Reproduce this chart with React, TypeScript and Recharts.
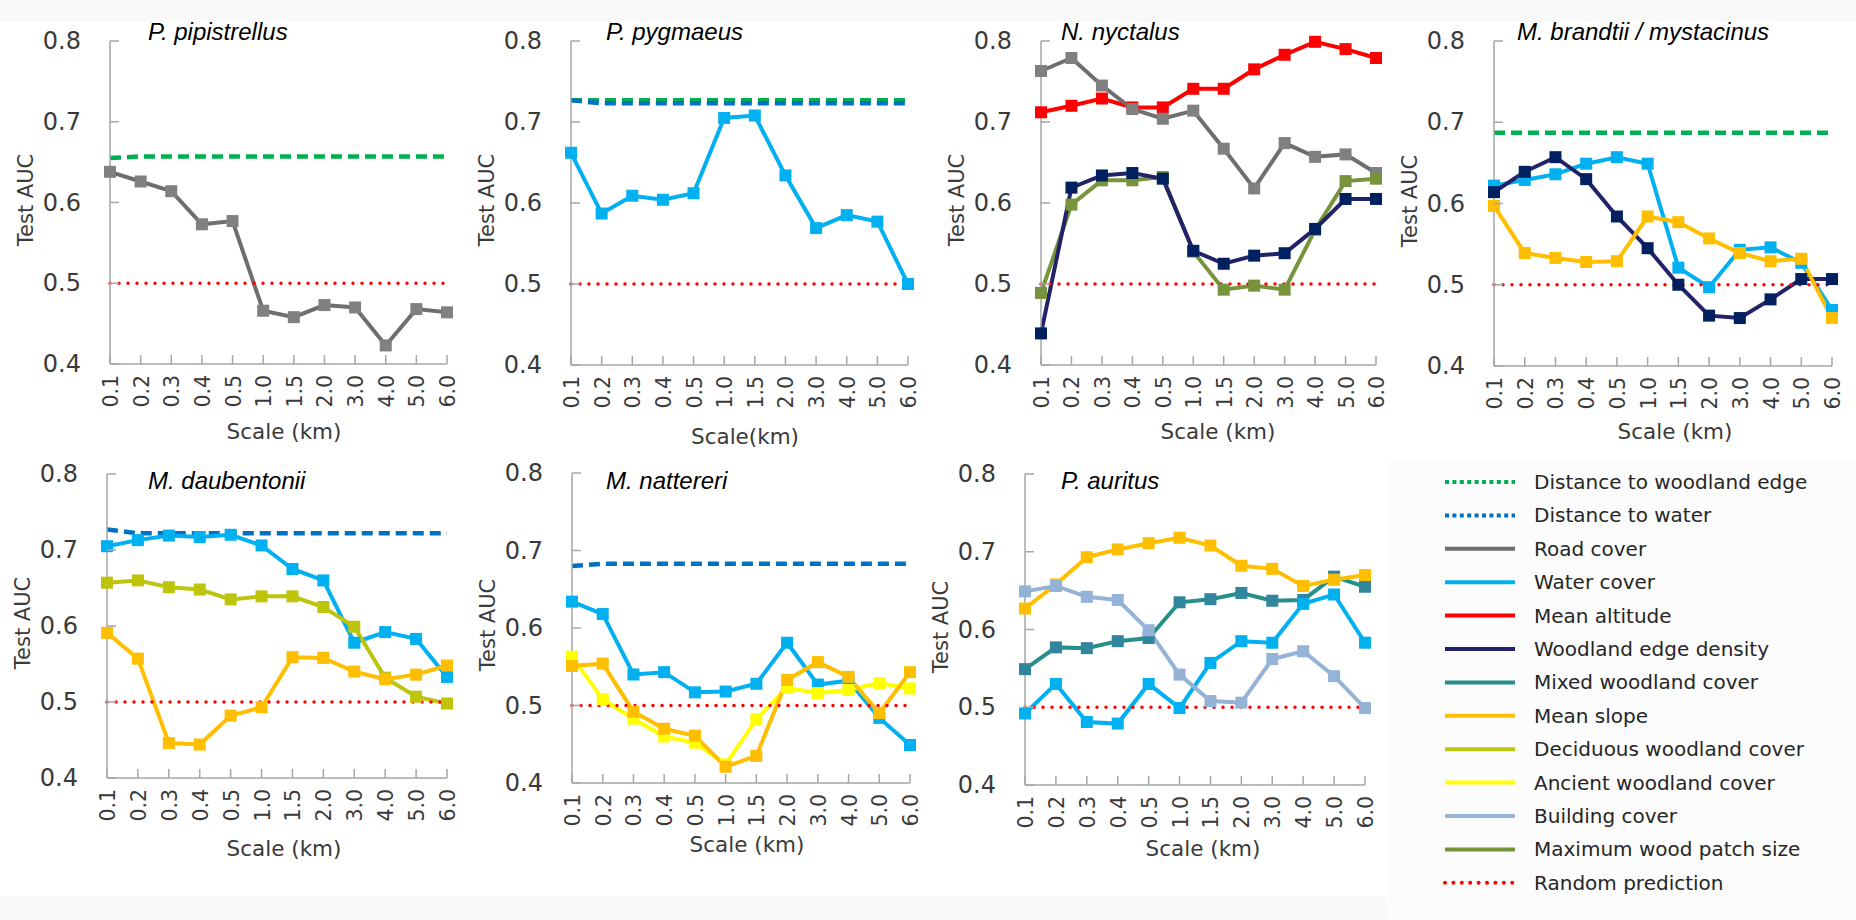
import { LineChart, Line, XAxis, YAxis, ReferenceLine } from "recharts";

const SCALES = ["0.1", "0.2", "0.3", "0.4", "0.5", "1.0", "1.5", "2.0", "3.0", "4.0", "5.0", "6.0"];
const AUC_TICKS = [0.4, 0.5, 0.6, 0.7, 0.8];
const RANDOM_AUC = 0.5;

// P. pipistrellus
const pipWoodEdgeDist = [0.655, 0.657, 0.657, 0.657, 0.657, 0.657, 0.657, 0.657, 0.657, 0.657, 0.657, 0.657];
const pipRoad = [0.638, 0.626, 0.614, 0.573, 0.577, 0.466, 0.458, 0.473, 0.47, 0.423, 0.468, 0.464];

// P. pygmaeus
const pygWoodEdgeDist = [0.727, 0.727, 0.727, 0.727, 0.727, 0.727, 0.727, 0.727, 0.727, 0.727, 0.727, 0.727];
const pygWaterDist = [0.727, 0.723, 0.723, 0.723, 0.723, 0.723, 0.723, 0.723, 0.723, 0.723, 0.723, 0.723];
const pygWater = [0.662, 0.587, 0.609, 0.604, 0.612, 0.705, 0.708, 0.634, 0.569, 0.585, 0.577, 0.5];

// N. nyctalus
const nycAltitude = [0.712, 0.72, 0.729, 0.718, 0.718, 0.741, 0.741, 0.765, 0.783, 0.799, 0.79, 0.779];
const nycRoad = [0.763, 0.779, 0.745, 0.716, 0.704, 0.714, 0.667, 0.618, 0.674, 0.657, 0.66, 0.637];
const nycPatch = [0.489, 0.598, 0.628, 0.628, 0.632, 0.54, 0.493, 0.498, 0.493, 0.567, 0.627, 0.63];
const nycEdgeDensity = [0.439, 0.619, 0.634, 0.637, 0.63, 0.541, 0.525, 0.535, 0.538, 0.568, 0.605, 0.605];

// M. brandtii / mystacinus
const braWoodEdgeDist = [0.687, 0.687, 0.687, 0.687, 0.687, 0.687, 0.687, 0.687, 0.687, 0.687, 0.687, 0.687];
const braWater = [0.622, 0.629, 0.636, 0.649, 0.657, 0.649, 0.521, 0.497, 0.543, 0.546, 0.527, 0.469];
const braEdgeDensity = [0.614, 0.639, 0.657, 0.63, 0.584, 0.545, 0.5, 0.462, 0.459, 0.482, 0.507, 0.507];
const braSlope = [0.597, 0.539, 0.533, 0.528, 0.529, 0.584, 0.577, 0.557, 0.539, 0.529, 0.532, 0.459];

// M. daubentonii
const dauWaterDist = [0.727, 0.722, 0.722, 0.722, 0.722, 0.722, 0.722, 0.722, 0.722, 0.722, 0.722, 0.722];
const dauWater = [0.705, 0.713, 0.719, 0.717, 0.72, 0.706, 0.675, 0.66, 0.578, 0.592, 0.583, 0.533];
const dauDeciduous = [0.657, 0.66, 0.651, 0.648, 0.635, 0.639, 0.639, 0.625, 0.599, 0.532, 0.507, 0.498];
const dauSlope = [0.591, 0.557, 0.446, 0.444, 0.482, 0.493, 0.559, 0.558, 0.54, 0.53, 0.536, 0.548];

// M. nattereri
const natWaterDist = [0.68, 0.683, 0.683, 0.683, 0.683, 0.683, 0.683, 0.683, 0.683, 0.683, 0.683, 0.683];
const natWater = [0.634, 0.618, 0.54, 0.543, 0.517, 0.518, 0.528, 0.581, 0.527, 0.532, 0.484, 0.449];
const natAncient = [0.563, 0.508, 0.483, 0.46, 0.452, 0.424, 0.482, 0.523, 0.516, 0.52, 0.529, 0.522];
const natSlope = [0.551, 0.554, 0.492, 0.47, 0.461, 0.421, 0.435, 0.533, 0.556, 0.537, 0.49, 0.543];

// P. auritus
const aurMixed = [0.549, 0.577, 0.576, 0.585, 0.589, 0.635, 0.639, 0.647, 0.637, 0.638, 0.668, 0.655];
const aurWater = [0.492, 0.53, 0.481, 0.479, 0.53, 0.499, 0.557, 0.585, 0.583, 0.633, 0.645, 0.583];
const aurSlope = [0.627, 0.658, 0.693, 0.703, 0.711, 0.718, 0.708, 0.682, 0.678, 0.656, 0.664, 0.67];
const aurBuilding = [0.649, 0.656, 0.642, 0.638, 0.599, 0.542, 0.508, 0.506, 0.562, 0.572, 0.54, 0.499];

type Covariate = { name: string; stroke: string; marker?: string; kind: "dist" | "cover" | "random" };

const COVARIATES: Record<string, Covariate> = {
  woodEdgeDist: { name: "Distance to woodland edge", stroke: "#00b050", kind: "dist" },
  waterDist: { name: "Distance to water", stroke: "#0070c0", kind: "dist" },
  road: { name: "Road cover", stroke: "#6e6e6e", marker: "#808080", kind: "cover" },
  water: { name: "Water cover", stroke: "#00b0f0", marker: "#00b0f0", kind: "cover" },
  altitude: { name: "Mean altitude", stroke: "#ff0000", marker: "#ff0000", kind: "cover" },
  edgeDensity: { name: "Woodland edge density", stroke: "#22226a", marker: "#002060", kind: "cover" },
  mixed: { name: "Mixed woodland cover", stroke: "#25908a", marker: "#31859c", kind: "cover" },
  slope: { name: "Mean slope", stroke: "#ffbf00", marker: "#ffbf00", kind: "cover" },
  deciduous: { name: "Deciduous woodland cover", stroke: "#bcc40e", marker: "#bec40a", kind: "cover" },
  ancient: { name: "Ancient woodland cover", stroke: "#ffff00", marker: "#ffff00", kind: "cover" },
  building: { name: "Building cover", stroke: "#95b3d7", marker: "#95b3d7", kind: "cover" },
  patch: { name: "Maximum wood patch size", stroke: "#77933c", marker: "#77933c", kind: "cover" },
  random: { name: "Random prediction", stroke: "#ff0000", kind: "random" },
};

const LEGEND_ORDER = [
  "woodEdgeDist", "waterDist", "road", "water", "altitude", "edgeDensity",
  "mixed", "slope", "deciduous", "ancient", "building", "patch", "random",
];

type Panel = {
  title: string;
  xTitle: string;
  left: number;
  top: number;
  right: number;
  bottom: number;
  titleX: number;
  titleY: number;
  xTitleX: number;
  xTitleY: number;
  series: [string, number[]][];
};

const PANELS: Panel[] = [
  {
    title: "P. pipistrellus", xTitle: "Scale (km)",
    left: 110, top: 41, right: 447, bottom: 364, titleX: 148, titleY: 32, xTitleX: 284, xTitleY: 432,
    series: [["woodEdgeDist", pipWoodEdgeDist], ["road", pipRoad]],
  },
  {
    title: "P. pygmaeus", xTitle: "Scale(km)",
    left: 571, top: 41, right: 908, bottom: 365, titleX: 606, titleY: 32, xTitleX: 745, xTitleY: 437,
    series: [["woodEdgeDist", pygWoodEdgeDist], ["waterDist", pygWaterDist], ["water", pygWater]],
  },
  {
    title: "N. nyctalus", xTitle: "Scale (km)",
    left: 1041, top: 41, right: 1376, bottom: 365, titleX: 1061, titleY: 32, xTitleX: 1218, xTitleY: 432,
    series: [["altitude", nycAltitude], ["road", nycRoad], ["patch", nycPatch], ["edgeDensity", nycEdgeDensity]],
  },
  {
    title: "M. brandtii / mystacinus", xTitle: "Scale (km)",
    left: 1494, top: 41, right: 1832, bottom: 366, titleX: 1517, titleY: 32, xTitleX: 1675, xTitleY: 432,
    series: [["woodEdgeDist", braWoodEdgeDist], ["water", braWater], ["edgeDensity", braEdgeDensity], ["slope", braSlope]],
  },
  {
    title: "M. daubentonii", xTitle: "Scale (km)",
    left: 107, top: 474, right: 447, bottom: 778, titleX: 148, titleY: 481, xTitleX: 284, xTitleY: 849,
    series: [["waterDist", dauWaterDist], ["water", dauWater], ["deciduous", dauDeciduous], ["slope", dauSlope]],
  },
  {
    title: "M. nattereri", xTitle: "Scale (km)",
    left: 572, top: 473, right: 910, bottom: 783, titleX: 606, titleY: 481, xTitleX: 747, xTitleY: 845,
    series: [["waterDist", natWaterDist], ["water", natWater], ["ancient", natAncient], ["slope", natSlope]],
  },
  {
    title: "P. auritus", xTitle: "Scale (km)",
    left: 1025, top: 474, right: 1365, bottom: 785, titleX: 1061, titleY: 481, xTitleX: 1203, xTitleY: 849,
    series: [["mixed", aurMixed], ["water", aurWater], ["slope", aurSlope], ["building", aurBuilding]],
  },
];

const AXIS_GREY = "#a6a6a6";
const TEXT_GREY = "#3a3a3a";
const FONT = "'DejaVu Sans', sans-serif";

// Space around each plot area inside its LineChart
const PAD_L = 110;
const PAD_T = 45;
const PAD_R = 20;
const PAD_B = 70;
const TICK_LEN = 9;
const MARKER = 12;

function SquareDot(props: any) {
  const { cx, cy, fill, index, dataKey } = props;
  if (cx == null || cy == null) return <g key={`${dataKey}-${index}`} />;
  return (
    <rect
      key={`${dataKey}-${index}`}
      x={cx - MARKER / 2}
      y={cy - MARKER / 2}
      width={MARKER}
      height={MARKER}
      fill={fill}
    />
  );
}

function SpeciesChart({ panel }: { panel: Panel }) {
  const plotW = panel.right - panel.left;
  const plotH = panel.bottom - panel.top;
  const width = plotW + PAD_L + PAD_R;
  const height = plotH + PAD_T + PAD_B;
  const plotBottom = PAD_T + plotH;

  const rows = SCALES.map((scale, i) => {
    const row: Record<string, string | number> = { scale };
    panel.series.forEach(([key, values]) => {
      row[key] = values[i];
    });
    return row;
  });

  const yTick = (props: any) => {
    const { y, payload } = props;
    return (
      <g>
        <line x1={PAD_L} x2={PAD_L + TICK_LEN} y1={y} y2={y} stroke={AXIS_GREY} strokeWidth={1.5} />
        <text x={PAD_L - 29} y={y} textAnchor="end" dominantBaseline="central" fontSize={24} fill={TEXT_GREY} fontFamily={FONT}>
          {Number(payload.value).toFixed(1)}
        </text>
      </g>
    );
  };

  const xTick = (props: any) => {
    const { x, payload } = props;
    return (
      <g>
        <line x1={x} x2={x} y1={plotBottom} y2={plotBottom - TICK_LEN} stroke={AXIS_GREY} strokeWidth={1.5} />
        <text
          transform={`translate(${x + 1},${plotBottom + 11}) rotate(-90)`}
          textAnchor="end"
          dominantBaseline="central"
          fontSize={20.5}
          fill={TEXT_GREY}
          fontFamily={FONT}
        >
          {payload.value}
        </text>
      </g>
    );
  };

  return (
    <div style={{ position: "absolute", left: panel.left - PAD_L, top: panel.top - PAD_T }}>
      <LineChart width={width} height={height} data={rows} margin={{ top: PAD_T, right: PAD_R, bottom: 0, left: 0 }}>
        <XAxis
          dataKey="scale"
          height={PAD_B}
          interval={0}
          tickLine={false}
          axisLine={{ stroke: AXIS_GREY, strokeWidth: 1.5 }}
          tick={xTick}
        />
        <YAxis
          width={PAD_L}
          domain={[0.4, 0.8]}
          ticks={AUC_TICKS}
          tickLine={false}
          axisLine={{ stroke: AXIS_GREY, strokeWidth: 1.5 }}
          tick={yTick}
        />
        {panel.series.map(([key]) => {
          const cov = COVARIATES[key];
          if (cov.kind === "dist") {
            return (
              <Line
                key={key}
                dataKey={key}
                stroke={cov.stroke}
                strokeWidth={4.5}
                strokeDasharray="11 6"
                dot={false}
                type="linear"
                isAnimationActive={false}
              />
            );
          }
          return (
            <Line
              key={key}
              dataKey={key}
              stroke={cov.stroke}
              strokeWidth={4}
              dot={(p: any) => <SquareDot {...p} fill={cov.marker} />}
              activeDot={false}
              type="linear"
              isAnimationActive={false}
            />
          );
        })}
        <ReferenceLine
          y={RANDOM_AUC}
          stroke={COVARIATES.random.stroke}
          strokeWidth={3.5}
          strokeDasharray="0 9"
          strokeLinecap="round"
        />
      </LineChart>
      <div
        style={{
          position: "absolute",
          left: panel.titleX - panel.left + PAD_L,
          top: panel.titleY - panel.top + PAD_T,
          transform: "translateY(-50%)",
          fontFamily: "'Liberation Sans', Arial, sans-serif",
          fontStyle: "italic",
          fontSize: 24,
          color: "#000",
          whiteSpace: "nowrap",
          lineHeight: 1,
        }}
      >
        {panel.title}
      </div>
      <div
        style={{
          position: "absolute",
          left: PAD_L - 84,
          top: PAD_T + plotH / 2 - 3,
          transform: "translate(-50%, -50%) rotate(-90deg)",
          fontFamily: FONT,
          fontSize: 21,
          color: TEXT_GREY,
          whiteSpace: "nowrap",
          lineHeight: 1,
        }}
      >
        Test AUC
      </div>
      <div
        style={{
          position: "absolute",
          left: panel.xTitleX - panel.left + PAD_L,
          top: panel.xTitleY - panel.top + PAD_T,
          transform: "translate(-50%, -50%)",
          fontFamily: FONT,
          fontSize: 21.5,
          color: TEXT_GREY,
          whiteSpace: "nowrap",
          lineHeight: 1,
        }}
      >
        {panel.xTitle}
      </div>
    </div>
  );
}

function Legend() {
  const rowGap = 33.4;
  return (
    <svg width={470} height={460} style={{ position: "absolute", left: 1392, top: 460 }}>
      {LEGEND_ORDER.map((key, i) => {
        const cov = COVARIATES[key];
        const y = 22 + i * rowGap;
        let dash: string | undefined;
        let cap: "butt" | "round" = "butt";
        if (cov.kind === "dist") dash = "4 3.4";
        if (cov.kind === "random") {
          dash = "0 8.4";
          cap = "round";
        }
        return (
          <g key={key}>
            <line
              x1={53}
              x2={123}
              y1={y}
              y2={y}
              stroke={cov.stroke}
              strokeWidth={4}
              strokeDasharray={dash}
              strokeLinecap={cap}
            />
            <text x={142} y={y} dominantBaseline="central" fontSize={20} fill="#262626" fontFamily={FONT}>
              {cov.name}
            </text>
          </g>
        );
      })}
    </svg>
  );
}

export default function App() {
  return (
    <div style={{ position: "absolute", left: 0, top: 0, width: 1856, height: 920, background: "#ffffff", overflow: "hidden" }}>
      <div style={{ position: "absolute", left: 0, top: 0, width: 1856, height: 22, background: "#f9f9f9" }} />
      <div style={{ position: "absolute", left: 0, top: 897, width: 1856, height: 23, background: "#f9f9f9" }} />
      <div style={{ position: "absolute", left: 1386, top: 460, width: 470, height: 460, background: "#fcfcfc" }} />
      {PANELS.map((panel) => (
        <SpeciesChart key={panel.title} panel={panel} />
      ))}
      <Legend />
    </div>
  );
}
